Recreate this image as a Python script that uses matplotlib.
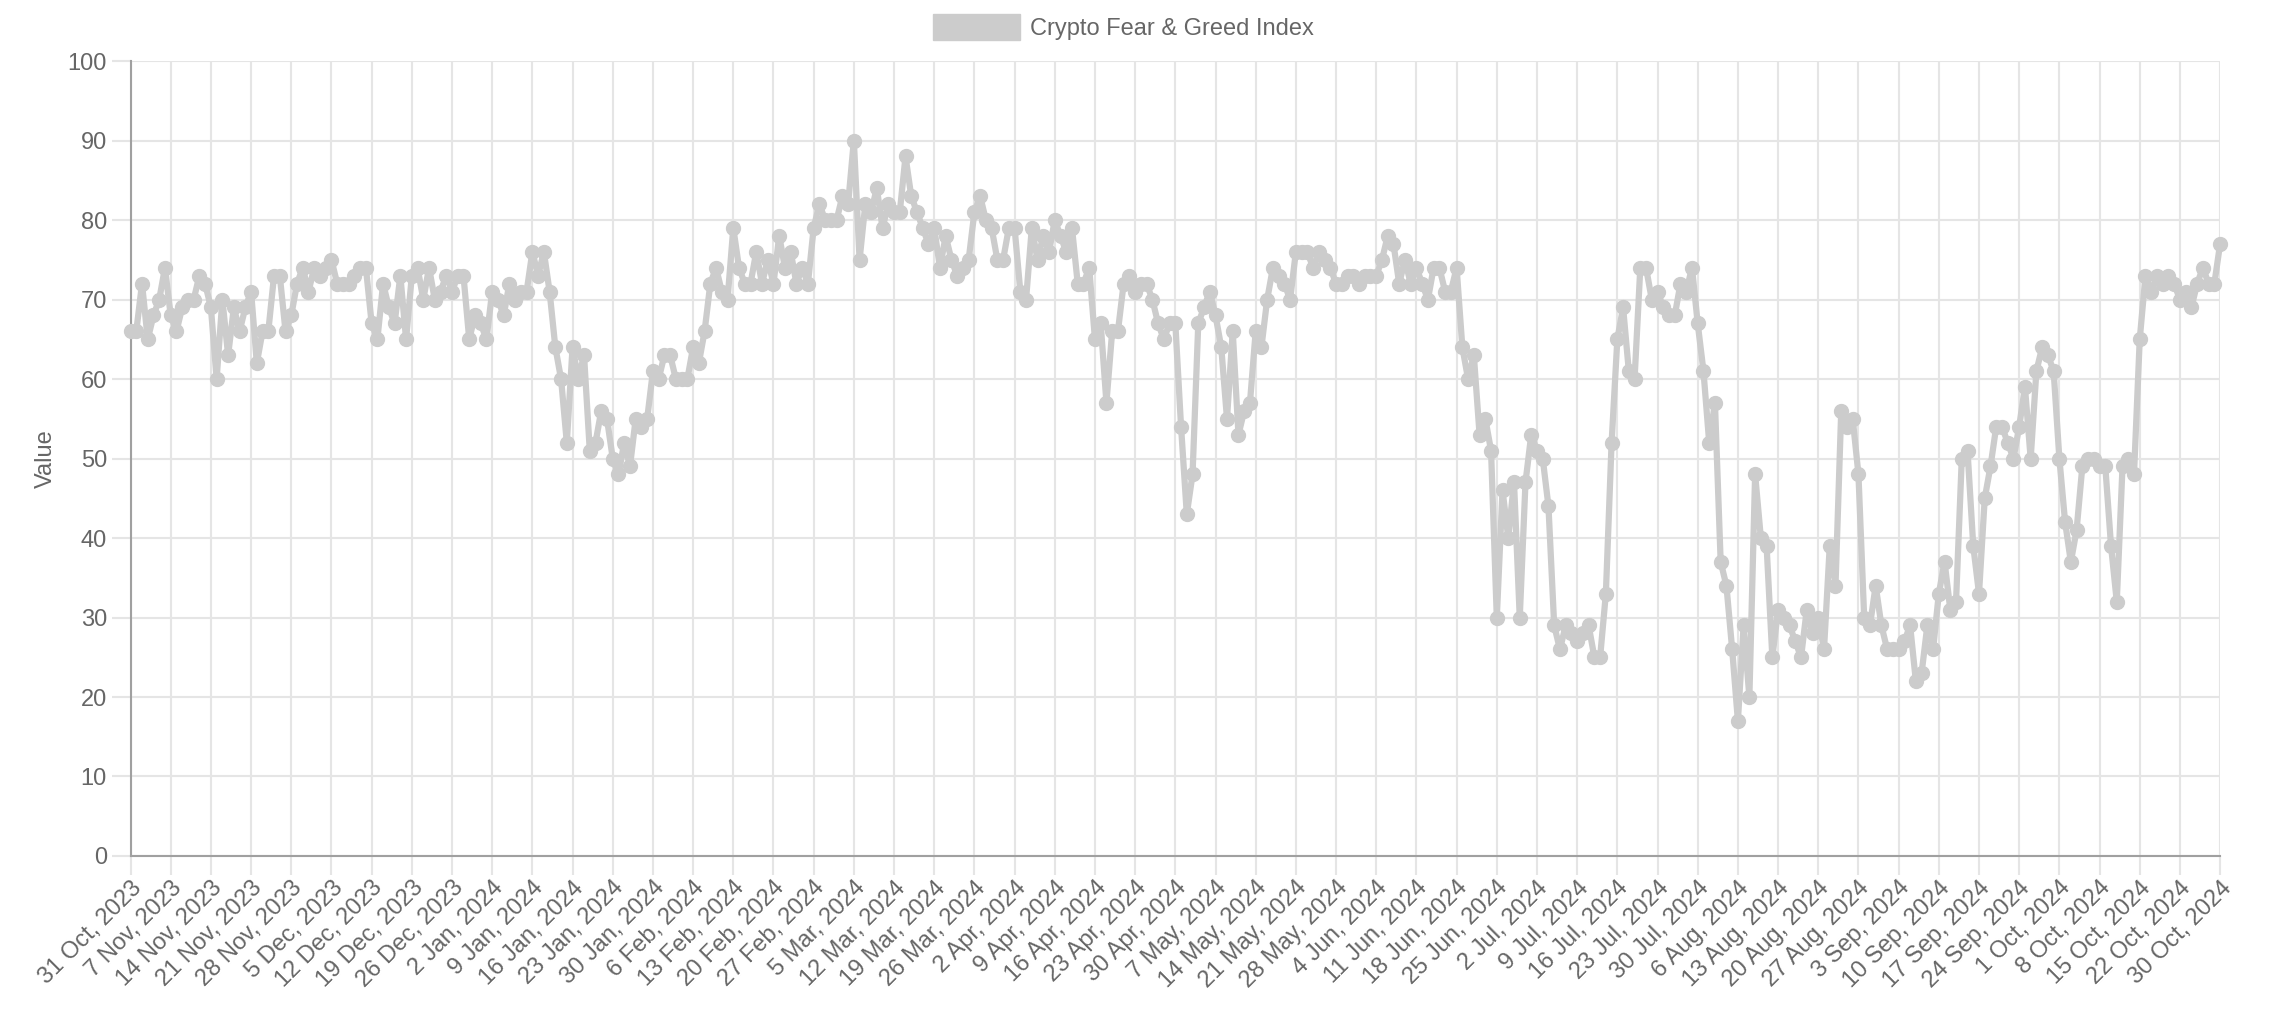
from matplotlib import pyplot as plt
from matplotlib.patches import Patch
import numpy as np

plt.rcParams['font.family'] = ['Liberation Sans', 'DejaVu Sans']

# daily index values, 31 Oct 2023 -> 30 Oct 2024
values = [
    66, 66, 72, 65, 68, 70, 74,
    68, 66, 69, 70, 70, 73, 72,
    69, 60, 70, 63, 69, 66, 69,
    71, 62, 66, 66, 73, 73, 66,
    68, 72, 74, 71, 74, 73, 74,
    75, 72, 72, 72, 73, 74, 74,
    67, 65, 72, 69, 67, 73, 65,
    73, 74, 70, 74, 70, 71, 73,
    71, 73, 73, 65, 68, 67, 65,
    71, 70, 68, 72, 70, 71, 71,
    76, 73, 76, 71, 64, 60, 52,
    64, 60, 63, 51, 52, 56, 55,
    50, 48, 52, 49, 55, 54, 55,
    61, 60, 63, 63, 60, 60, 60,
    64, 62, 66, 72, 74, 71, 70,
    79, 74, 72, 72, 76, 72, 75,
    72, 78, 74, 76, 72, 74, 72,
    79, 82, 80, 80, 80, 83, 82,
    90, 75, 82, 81, 84, 79, 82,
    81, 81, 88, 83, 81, 79, 77,
    79, 74, 78, 75, 73, 74, 75,
    81, 83, 80, 79, 75, 75, 79,
    79, 71, 70, 79, 75, 78, 76,
    80, 78, 76, 79, 72, 72, 74,
    65, 67, 57, 66, 66, 72, 73,
    71, 72, 72, 70, 67, 65, 67,
    67, 54, 43, 48, 67, 69, 71,
    68, 64, 55, 66, 53, 56, 57,
    66, 64, 70, 74, 73, 72, 70,
    76, 76, 76, 74, 76, 75, 74,
    72, 72, 73, 73, 72, 73, 73,
    73, 75, 78, 77, 72, 75, 72,
    74, 72, 70, 74, 74, 71, 71,
    74, 64, 60, 63, 53, 55, 51,
    30, 46, 40, 47, 30, 47, 53,
    51, 50, 44, 29, 26, 29, 28,
    27, 28, 29, 25, 25, 33, 52,
    65, 69, 61, 60, 74, 74, 70,
    71, 69, 68, 68, 72, 71, 74,
    67, 61, 52, 57, 37, 34, 26,
    17, 29, 20, 48, 40, 39, 25,
    31, 30, 29, 27, 25, 31, 28,
    30, 26, 39, 34, 56, 54, 55,
    48, 30, 29, 34, 29, 26, 26,
    26, 27, 29, 22, 23, 29, 26,
    33, 37, 31, 32, 50, 51, 39,
    33, 45, 49, 54, 54, 52, 50,
    54, 59, 50, 61, 64, 63, 61,
    50, 42, 37, 41, 49, 50, 50,
    49, 49, 39, 32, 49, 50, 48,
    65, 73, 71, 73, 72, 73, 72,
    70, 71, 69, 72, 74, 72, 72,
    77,
]

tick_labels = [
    "31 Oct, 2023", "7 Nov, 2023", "14 Nov, 2023", "21 Nov, 2023", "28 Nov, 2023",
    "5 Dec, 2023", "12 Dec, 2023", "19 Dec, 2023", "26 Dec, 2023",
    "2 Jan, 2024", "9 Jan, 2024", "16 Jan, 2024", "23 Jan, 2024", "30 Jan, 2024",
    "6 Feb, 2024", "13 Feb, 2024", "20 Feb, 2024", "27 Feb, 2024",
    "5 Mar, 2024", "12 Mar, 2024", "19 Mar, 2024", "26 Mar, 2024",
    "2 Apr, 2024", "9 Apr, 2024", "16 Apr, 2024", "23 Apr, 2024", "30 Apr, 2024",
    "7 May, 2024", "14 May, 2024", "21 May, 2024", "28 May, 2024",
    "4 Jun, 2024", "11 Jun, 2024", "18 Jun, 2024", "25 Jun, 2024",
    "2 Jul, 2024", "9 Jul, 2024", "16 Jul, 2024", "23 Jul, 2024", "30 Jul, 2024",
    "6 Aug, 2024", "13 Aug, 2024", "20 Aug, 2024", "27 Aug, 2024",
    "3 Sep, 2024", "10 Sep, 2024", "17 Sep, 2024", "24 Sep, 2024",
    "1 Oct, 2024", "8 Oct, 2024", "15 Oct, 2024", "22 Oct, 2024", "30 Oct, 2024",
]
tick_step = 7
series_name = "Crypto Fear & Greed Index"

line_color = "#cccccc"
text_color = "#666666"
grid_color = "#e5e5e5"
axis_color = "#a0a0a0"
fs = 17

x = np.arange(len(values))

fig = plt.figure(figsize=(22.74, 10.26), dpi=100)
ax = fig.add_axes([0.0574, 0.1657, 0.9189, 0.7748])

ax.plot(x, values, color=line_color, linewidth=4.5, marker="o", markersize=10,
        markerfacecolor=line_color, markeredgecolor=line_color, clip_on=False, zorder=3)

ax.set_xlim(0, len(values) - 1)
ax.set_ylim(0, 100)
ax.set_yticks(np.arange(0, 101, 10))
ax.set_xticks(x[::tick_step])
ax.set_xticklabels(tick_labels, rotation=45, ha="right", va="top", rotation_mode="anchor")

ax.grid(True, color=grid_color, linewidth=1.5)
ax.set_axisbelow(True)
ax.tick_params(axis="both", colors=grid_color, labelcolor=text_color, labelsize=fs,
               length=14, width=1.5)
ax.tick_params(axis="x", pad=1)
ax.tick_params(axis="y", pad=3)
for side in ["top", "right"]:
    ax.spines[side].set_visible(False)
for side in ["left", "bottom"]:
    ax.spines[side].set_color(axis_color)
    ax.spines[side].set_linewidth(1.5)

ax.set_ylabel("Value", color=text_color, fontsize=fs, labelpad=8)

handle = Patch(facecolor=line_color, edgecolor=line_color)
fig.legend([handle], [series_name], loc="upper center", bbox_to_anchor=(0.494, 0.999),
           frameon=False, fontsize=fs, labelcolor=text_color,
           handlelength=3.7, handleheight=1.3, handletextpad=0.4, borderaxespad=0.15)

plt.savefig("out.png", dpi=100)
